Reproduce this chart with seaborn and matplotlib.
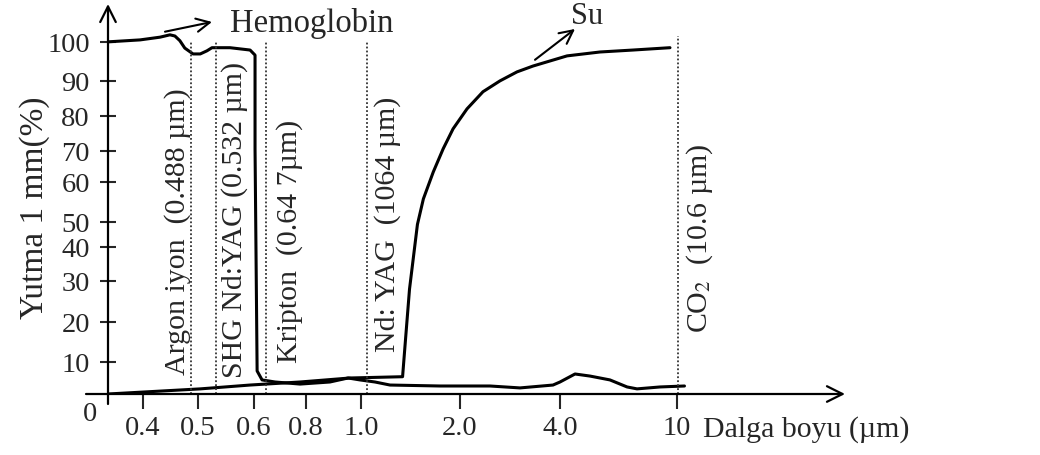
import numpy as np
import matplotlib
matplotlib.use('Agg')
import matplotlib.pyplot as plt
import seaborn as sns

sns.set_style('white')
plt.rcParams['font.family'] = ['Liberation Serif', 'DejaVu Serif']
plt.rcParams['mathtext.fontset'] = 'stix'

# Hemoglobin absorption curve (wavelength in um, absorption in %)
hb_wl = [0.34, 0.395, 0.431, 0.449, 0.458, 0.467, 0.476, 0.491, 0.504, 0.516,
         0.525, 0.557, 0.593, 0.604, 0.604, 0.612, 0.631, 0.681, 0.777, 0.887,
         0.953, 0.996, 1.141, 1.293, 1.798, 2.0, 2.6, 3.2, 3.86, 4.0,
         4.77, 5.54, 6.56, 7.44, 7.95, 9.13, 14.0]
hb_abs = [100, 100.5, 101.2, 101.8, 101.5, 100.3, 98.4, 96.9, 96.9, 97.7,
          98.5, 98.5, 97.9, 96.6, 70.6, 7.2, 4.4, 3.75, 3.1, 3.75,
          5.0, 4.4, 3.75, 2.8, 2.5, 2.5, 2.5, 1.9, 2.8, 3.75,
          6.25, 5.6, 4.4, 2.2, 1.6, 2.2, 2.5]

# Water (Su) absorption curve
su_wl = [0.34, 0.504, 0.593, 0.777, 0.96, 1.42, 1.45, 1.49, 1.57, 1.63,
         1.73, 1.83, 1.93, 2.14, 2.46, 2.8, 3.14, 3.46, 3.8, 4.36,
         6.05, 7.74, 9.64]
su_abs = [0, 1.6, 2.8, 3.75, 5.0, 5.4, 15.75, 28.0, 49.0, 55.75,
          63.2, 70.6, 76.3, 82.0, 86.9, 90.0, 92.3, 93.8, 95.1, 96.4,
          97.4, 97.9, 98.5]

# laser lines
laser_wl = [0.488, 0.532, 0.647, 1.064, 10.6]
laser_top = [100, 100, 100, 100, 101.5]
laser_names = ['Argon iyon  (0.488 \u00b5m)', 'SHG Nd:YAG (0.532 \u00b5m)',
               'Kripton  (0.64 7\u00b5m)', 'Nd: YAG  (1064 \u00b5m)',
               'CO$_2$  (10.6 \u00b5m)']
label_x = [0.462, 0.566, 0.738, 1.27, 22.3]
label_y = [6.3, 5.3, 10.0, 12.75, 17.5]

x_ticks = [0.4, 0.5, 0.6, 0.8, 1.0, 2.0, 4.0, 10]
x_ticklabels = ['0.4', '0.5', '0.6', '0.8', '1.0', '2.0', '4.0', '10']
y_ticks = [10, 20, 30, 40, 50, 60, 70, 80, 90, 100]

# the hand-drawn axes are not evenly spaced: piecewise scales
x_knots = [0.34, 0.4, 0.5, 0.6, 0.8, 1.0, 2.0, 4.0, 10, 100]
x_pos = [0, 35, 90, 146, 198, 253, 352, 452, 569, 737]
y_knots = [0, 10, 20, 30, 40, 50, 60, 70, 80, 90, 100, 110]
y_pos = [0, 32, 72, 113, 147, 172, 212, 243, 278, 313, 352, 391]

fig = plt.figure(figsize=(10.4, 4.56), dpi=100)
ax = fig.add_axes([108 / 1040, 61 / 456, 737 / 1040, 390 / 456])

sns.lineplot(x=hb_wl, y=hb_abs, ax=ax, color='black', lw=2.2, sort=False, estimator=None)
sns.lineplot(x=su_wl, y=su_abs, ax=ax, color='black', lw=2.2, sort=False, estimator=None)

for wl, top in zip(laser_wl, laser_top):
    ax.plot([wl, wl], [0, top], color='#333333', lw=1.3, linestyle=(0, (1, 1.2)))

for name, lx, ly in zip(laser_names, label_x, label_y):
    ax.text(lx, ly, name, rotation=90, ha='center', va='bottom', fontsize=21.5)

ax.set_xscale('function', functions=(lambda v: np.interp(v, x_knots, x_pos),
                                     lambda u: np.interp(u, x_pos, x_knots)))
ax.set_yscale('function', functions=(lambda v: np.interp(v, y_knots, y_pos),
                                     lambda u: np.interp(u, y_pos, y_knots)))
ax.set_xlim(0.34, 100)
ax.set_ylim(0, 109.7)

ax.set_xticks(x_ticks)
ax.set_xticklabels(x_ticklabels)
ax.set_yticks(y_ticks)
ax.set_yticklabels([str(t) for t in y_ticks])
ax.xaxis.set_minor_locator(matplotlib.ticker.NullLocator())
ax.yaxis.set_minor_locator(matplotlib.ticker.NullLocator())
ax.tick_params(axis='x', direction='out', length=11, width=1.5, pad=4, labelsize=20.5, bottom=True)
ax.tick_params(axis='y', direction='inout', length=12, width=1.5, pad=7, labelsize=20.5, left=True)

for s in ax.spines.values():
    s.set_visible(False)

# arrowed axes
ax.annotate('', xy=(1, 0), xytext=(-22 / 737, 0), xycoords='axes fraction',
            arrowprops=dict(arrowstyle='->', lw=1.6, color='black', mutation_scale=28,
                            shrinkA=0, shrinkB=0), annotation_clip=False)
ax.annotate('', xy=(0, 1), xytext=(0, -10 / 390), xycoords='axes fraction',
            arrowprops=dict(arrowstyle='->', lw=1.6, color='black', mutation_scale=28,
                            shrinkA=0, shrinkB=0), annotation_clip=False)
ax.text(-18 / 737, -20 / 390, '0', transform=ax.transAxes, ha='center', va='center', fontsize=20.5)

# curve names
ax.annotate('', xy=(0.525, 105.1), xytext=(0.44, 102.6),
            arrowprops=dict(arrowstyle='->', lw=1.5, color='black', mutation_scale=24,
                            shrinkA=0, shrinkB=0), annotation_clip=False)
ax.text(0.557, 104.9, 'Hemoglobin', ha='left', va='center', fontsize=23.5)
ax.annotate('', xy=(4.77, 103.3), xytext=(3.5, 95.4),
            arrowprops=dict(arrowstyle='->', lw=1.5, color='black', mutation_scale=24,
                            shrinkA=0, shrinkB=0), annotation_clip=False)
ax.text(5.38, 106.7, 'Su', ha='center', va='center', fontsize=22)

fig.text(35 / 1040, 1 - 208 / 456, 'Yutma 1 mm(%)', rotation=90, ha='center', va='center', fontsize=24)
fig.text(703 / 1040, 1 - 430 / 456, 'Dalga boyu (\u00b5m)', ha='left', va='center', fontsize=21.5)

plt.savefig('out.png', dpi=100)
